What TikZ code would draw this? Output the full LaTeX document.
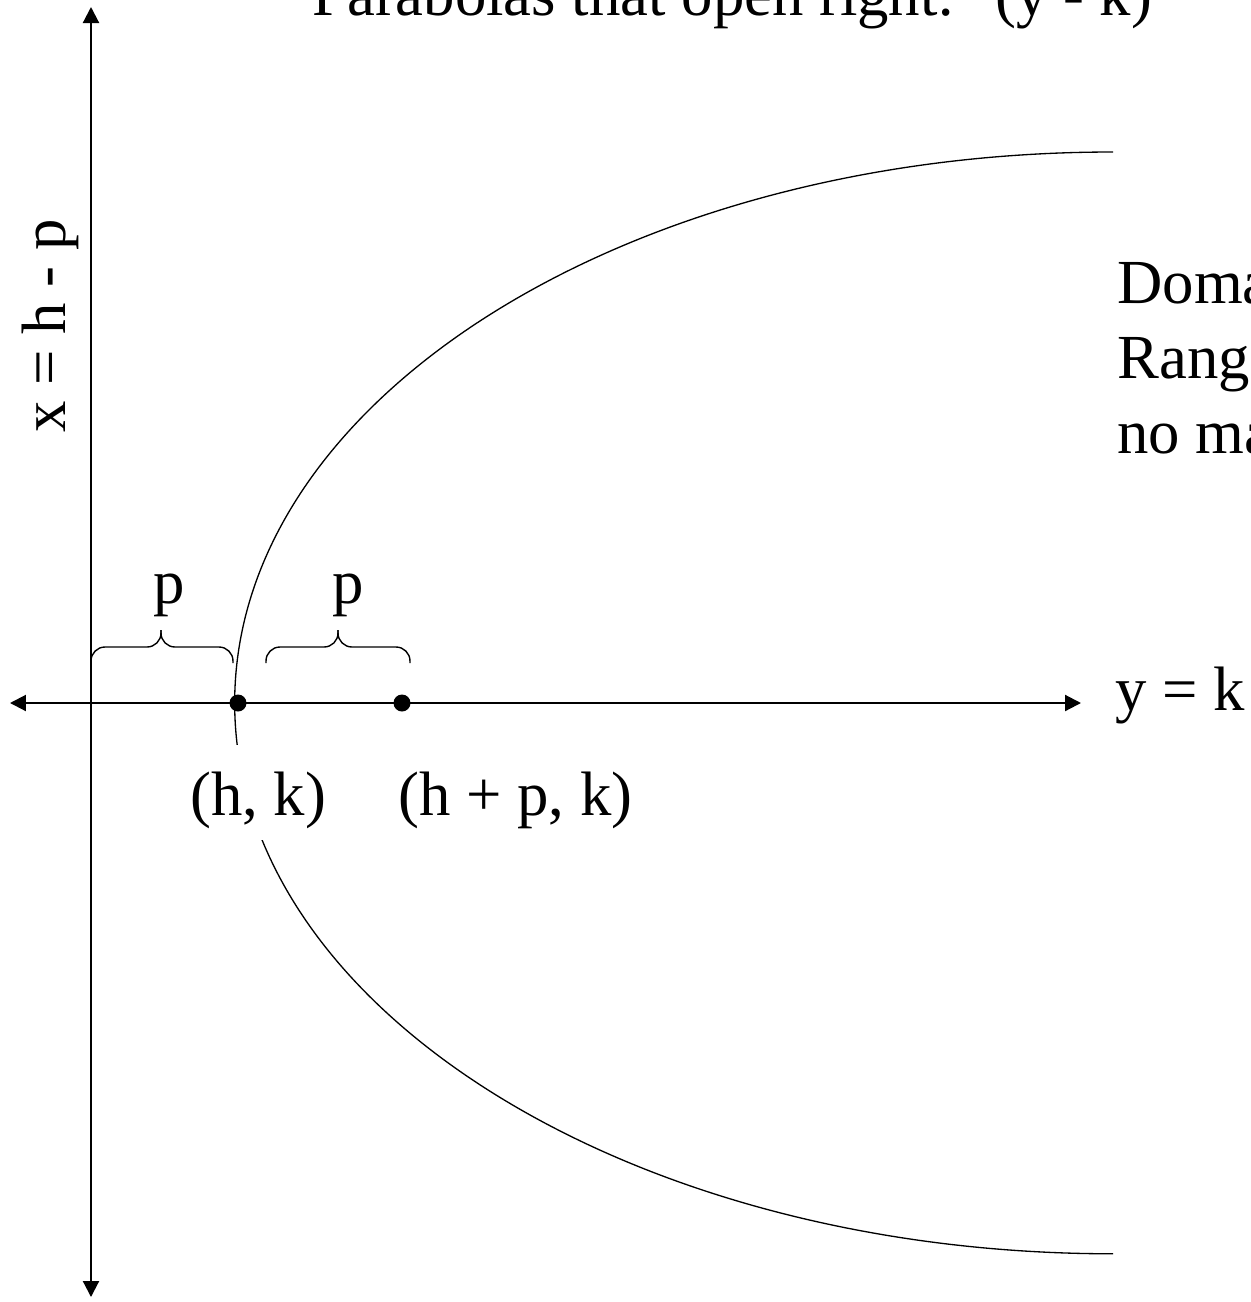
\documentclass[tikz,border=0pt]{standalone}
\usepackage{fontspec}
\setmainfont{Liberation Serif}
\usetikzlibrary{arrows.meta}

\tikzstyle{every node}=[inner sep=0pt, font={\fontsize{35.7}{42}\selectfont}]
\tikzstyle{txt}=[anchor=base west]
\tikzstyle{cover}=[txt, fill=white, text height=1.4cm, text depth=0.5cm]
\tikzstyle{axisline}=[line width=1.2pt, {Triangle[length=0.32cm,width=0.32cm]}-{Triangle[length=0.32cm,width=0.32cm]}]
\tikzstyle{parab}=[line width=0.75pt]
\tikzstyle{pbrace}=[line width=0.8pt, rounded corners=0.28cm]
\tikzstyle{point}=[circle, fill=black, minimum size=0.34cm]

\begin{document}
\begin{tikzpicture}[x=0.02cm, y=-0.02cm]
    \useasboundingbox (0,0) rectangle (1251,1302);

    % axes
    \coordinate (ytop) at (91,7);
    \coordinate (ybot) at (91,1297);
    \coordinate (xleft) at (10,703);
    \coordinate (xright) at (1081,703);
    \draw [axisline] (ybot) -- (ytop);
    \draw [axisline] (xleft) -- (xright);

    % parabola
    \coordinate (ptop) at (1113,152);
    \draw [parab] (ptop) arc [start angle=90, end angle=270, x radius=17.57cm, y radius=11.02cm];

    \node [point] (vertex) at (238,703) {};
    \node [point] (focus) at (402,703) {};

    % distances p
    \coordinate (b1s) at (91,663);
    \coordinate (b1t) at (161,630);
    \coordinate (b1e) at (233,663);
    \coordinate (b2s) at (266,663);
    \coordinate (b2t) at (338,630);
    \coordinate (b2e) at (410,663);
    \draw [pbrace] (b1s) -- ++(0,-16) -| (b1t);
    \draw [pbrace] (b1e) -- ++(0,-16) -| (b1t);
    \draw [pbrace] (b2s) -- ++(0,-16) -| (b2t);
    \draw [pbrace] (b2e) -- ++(0,-16) -| (b2t);
    \node [anchor=base] (p1) at (169,603) {p};
    \node [anchor=base] (p2) at (348,603) {p};

    % labels
    \node [cover] (vlabel) at (190,815) {(h, k)};
    \node [txt] (flabel) at (398,815) {(h + p, k)};
    \node [txt] (axlabel) at (1115,710) {y = k};
    \node [txt, rotate=90] (dlabel) at (65,433) {x = h - p};
    \node [txt] (title) at (312,15) {Parabolas that open right:\hspace{0.64em}(y - k)};
    \node [txt] (dom) at (1117,303) {Doma};
    \node [txt] (rng) at (1117,378) {Rang};
    \node [txt] (nomax) at (1117,453) {no ma};
\end{tikzpicture}
\end{document}
